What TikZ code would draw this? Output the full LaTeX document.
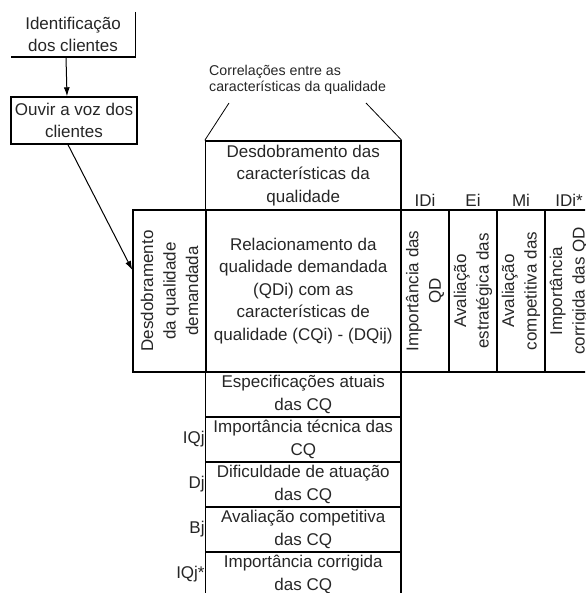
\documentclass[tikz,border=0pt]{standalone}
\usepackage{fontspec}
\setmainfont{Liberation Sans}
\usetikzlibrary{arrows.meta}
\begin{document}
\begin{tikzpicture}[x=1pt,y=-1pt,
	every node/.style={inner sep=0,align=center,text=black!85,
	font=\fontsize{17}{22.5}\selectfont},
	cel/.style 2 args={draw,line width=1.4pt,minimum width=#1,minimum height=#2},
	vcel/.style 2 args={cel={#1}{#2},rotate=90},
	seta/.style={-{Latex[length=9pt,width=6pt]},line width=1pt}]
\useasboundingbox (0,0) rectangle (585,593);
\clip (0,0) rectangle (585,593);
\node[minimum width=124,minimum height=45] (idcli) at (73,34.5) {Identificação\\dos clientes};
\draw[line width=1.4pt] (idcli.north east) -- (idcli.south east) -- (idcli.south west);
\node[cel={126}{47}] (ouvir) at (74,120.5) {Ouvir a voz dos\\clientes};
\node[anchor=west,align=left,font=\fontsize{14.2}{16.5}\selectfont] (corr) at (209,80)
	{Correlações entre as\\características da qualidade};
\node[cel={195.5}{69}] (dcq) at (303.25,175.5) {Desdobramento das\\características da\\qualidade};
\node[vcel={162}{73}] (dqd) at (169.5,291) {Desdobramento\\da qualidade\\demandada};
\node[cel={195.5}{162}] (rel) at (303.25,291) {Relacionamento da\\qualidade demandada\\(QDi) com as\\características de\\qualidade (CQi) - (DQij)};
\node[vcel={162}{48}] (idi) at (425,291) {Importância das\\QD};
\node[vcel={162}{48}] (ei) at (473,291) {Avaliação\\estratégica das};
\node[vcel={162}{48}] (mi) at (521,291) {Avaliação\\competitiva das};
\node[vcel={162}{48}] (idis) at (569,291) {Importância\\corrigida das QD};
\node (hidi) at (425,200) {IDi};
\node (hei) at (473,200) {Ei};
\node (hmi) at (521,200) {Mi};
\node (hidis) at (569,200) {IDi*};
\node[cel={195.5}{45}] (esp) at (303.25,394.5) {Especificações atuais\\das CQ};
\node[cel={195.5}{45}] (iqj) at (303.25,439.5) {Importância técnica das\\CQ};
\node[cel={195.5}{45}] (dj) at (303.25,484.5) {Dificuldade de atuação\\das CQ};
\node[cel={195.5}{45}] (bj) at (303.25,529.5) {Avaliação competitiva\\das CQ};
\node[cel={195.5}{45}] (iqjs) at (303.25,574.5) {Importância corrigida\\das CQ};
\node[anchor=east] (liqj) at (iqj.west) {IQj};
\node[anchor=east] (ldj) at (dj.west) {Dj};
\node[anchor=east] (lbj) at (bj.west) {Bj};
\node[anchor=east] (liqjs) at (iqjs.west) {IQj*};
\coordinate (cl) at (229,103);
\coordinate (cr) at (366,103);
\draw[line width=0.8pt] (cl) -- (dcq.north west);
\draw[line width=0.8pt] (cr) -- (dcq.north east);
\draw[seta] ([xshift=-7pt]idcli.south) -- ([xshift=-7pt]ouvir.north);
\draw[seta] ([xshift=-6pt]ouvir.south) -- ([yshift=21pt]dqd.north);
\end{tikzpicture}
\end{document}
